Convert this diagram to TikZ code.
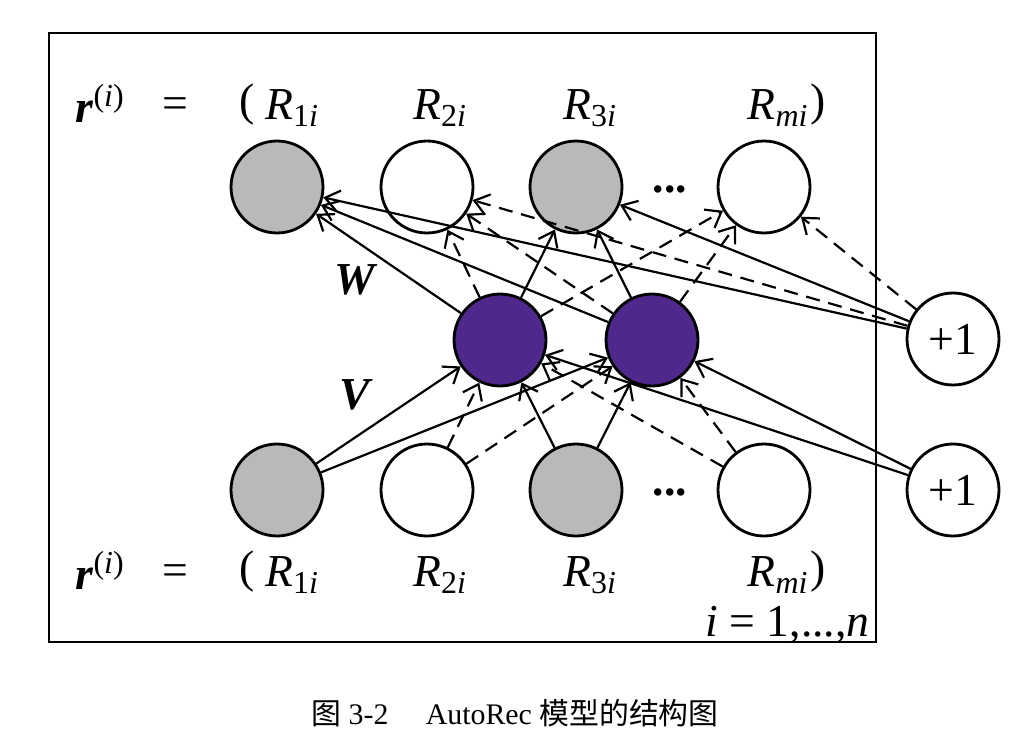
\documentclass[tikz,border=0pt]{standalone}
\usepackage{fontspec}
\setmainfont{Liberation Serif}
\newfontfamily\cjk{Noto Sans CJK SC}
\usepackage{xcolor}
\usepackage{tikz}
\usetikzlibrary{arrows.meta}

\definecolor{hidpurple}{RGB}{78,40,138}
\definecolor{obsgray}{RGB}{185,185,185}

\tikzset{
  unit/.style={circle, draw, line width=1.6pt, minimum size=1.84cm, inner sep=0pt},
  obsunit/.style={unit, fill=obsgray},
  hidunit/.style={unit, fill=hidpurple},
  obs/.style={line width=1.25pt, -{Straight Barb[length=8pt, width=12pt]}},
  miss/.style={obs, dash pattern=on 8pt off 5pt},
  lbl/.style={inner sep=0pt}
}

\begin{document}
\begin{tikzpicture}[x=0.02cm, y=-0.02cm, font=\fontsize{26}{30}\selectfont]
  \useasboundingbox (0,0) rectangle (1020,750);

  % Outer frame
  \draw[line width=1.2pt] (49,33) rectangle (876,642);

  % Output row (top)
  \node[obsunit] (t1) at (277,187) {};
  \node[unit]    (t2) at (427,187) {};
  \node[obsunit] (t3) at (576,187) {};
  \node[lbl]     (tdots) at (670,189) {\textbf{...}};
  \node[unit]    (tm) at (764,187) {};

  % Hidden layer
  \node[hidunit] (h1) at (500,340) {};
  \node[hidunit] (h2) at (652,340) {};

  % Input row (bottom)
  \node[obsunit] (b1) at (277,490) {};
  \node[unit]    (b2) at (427,490) {};
  \node[obsunit] (b3) at (576,490) {};
  \node[lbl]     (bdots) at (670,492) {\textbf{...}};
  \node[unit]    (bm) at (764,490) {};

  % Bias units
  \node[unit] (onetop) at (953,339) {+1};
  \node[unit] (onebot) at (953,490) {+1};

  % Decoder W: solid to observed, dashed to missing
  \foreach \h in {h1,h2,onetop}{
    \foreach \o in {t1,t3} \draw[obs] (\h) -- (\o);
    \foreach \o in {t2,tm} \draw[miss] (\h) -- (\o);
  }

  % Encoder V
  \foreach \h in {h1,h2}{
    \foreach \b in {b1,b3,onebot} \draw[obs] (\b) -- (\h);
    \foreach \b in {b2,bm} \draw[miss] (\b) -- (\h);
  }

  % Weight labels
  \node[lbl] (wlbl) at (356,280) {\textbf{\textit{W}}};
  \node[lbl] (vlbl) at (356,395) {\textbf{\textit{V}}};

  % Top vector
  \node[lbl] (rtop) at (100,103) {\textbf{\textit{r}}\textsuperscript{(\textit{i})}};
  \node[lbl] (eqtop) at (175,108) {=};
  \node[lbl] (lptop) at (247,105) {(};
  \node[lbl] (R1top) at (292,108) {\textit{R}\textsubscript{1\textit{i}}};
  \node[lbl] (R2top) at (440,108) {\textit{R}\textsubscript{2\textit{i}}};
  \node[lbl] (R3top) at (590,108) {\textit{R}\textsubscript{3\textit{i}}};
  \node[lbl] (Rmtop) at (778,108) {\textit{R}\textsubscript{\textit{mi}}};
  \node[lbl] (rptop) at (818,105) {)};

  % Bottom vector
  \node[lbl] (rbot) at (100,570) {\textbf{\textit{r}}\textsuperscript{(\textit{i})}};
  \node[lbl] (eqbot) at (175,575) {=};
  \node[lbl] (lpbot) at (247,572) {(};
  \node[lbl] (R1bot) at (292,575) {\textit{R}\textsubscript{1\textit{i}}};
  \node[lbl] (R2bot) at (440,575) {\textit{R}\textsubscript{2\textit{i}}};
  \node[lbl] (R3bot) at (590,575) {\textit{R}\textsubscript{3\textit{i}}};
  \node[lbl] (Rmbot) at (778,575) {\textit{R}\textsubscript{\textit{mi}}};
  \node[lbl] (rpbot) at (818,572) {)};

  \node[lbl, anchor=east] (range) at (870,625) {\textit{i} = 1,...,\textit{n}};

  % Caption
  \node[lbl, font=\fontsize{17}{20}\selectfont] (caption) at (515,713)
    {{\cjk 图} 3-2\quad\ AutoRec {\cjk 模型的结构图}};
\end{tikzpicture}
\end{document}
